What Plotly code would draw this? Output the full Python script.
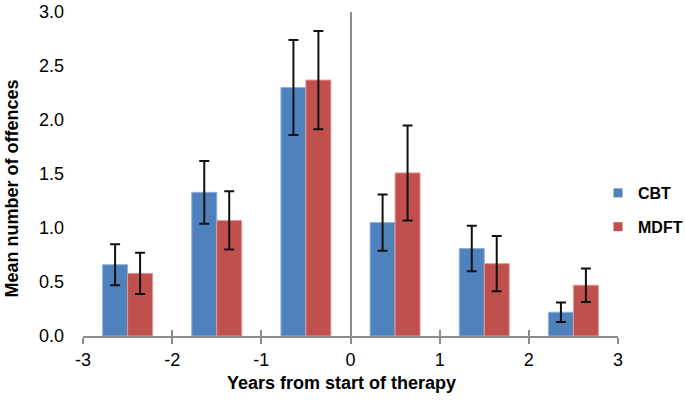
import plotly.graph_objects as go

years = [-2.5, -1.5, -0.5, 0.5, 1.5, 2.5]
cbt = [0.66, 1.33, 2.30, 1.05, 0.81, 0.22]
cbt_err = [0.19, 0.29, 0.44, 0.26, 0.21, 0.09]
mdft = [0.58, 1.07, 2.37, 1.51, 0.67, 0.47]
mdft_err = [0.19, 0.27, 0.455, 0.44, 0.255, 0.155]
x_ticks = [-3, -2, -1, 0, 1, 2, 3]
y_ticks = [0.0, 0.5, 1.0, 1.5, 2.0, 2.5, 3.0]

font = "Liberation Sans, Arial, sans-serif"
axis_gray = "#8c8c8c"
blue = "#4F81BD"
red = "#C0504D"

fig = go.Figure()
fig.add_trace(go.Bar(
    x=years, y=cbt, name="CBT", showlegend=False,
    marker=dict(color=blue, line=dict(color="#8fb0dc", width=1)),
    error_y=dict(type="data", array=cbt_err, color="#111111", thickness=2, width=5),
))
fig.add_trace(go.Bar(
    x=years, y=mdft, name="MDFT", showlegend=False,
    marker=dict(color=red, line=dict(color="#e09896", width=1)),
    error_y=dict(type="data", array=mdft_err, color="#111111", thickness=2, width=5),
))
# legend entries with small square keys
fig.add_trace(go.Scatter(x=[None], y=[None], mode="markers", name="CBT", legendgroup="cbt",
                         marker=dict(symbol="square", size=9, color=blue)))
fig.add_trace(go.Scatter(x=[None], y=[None], mode="markers", name="MDFT", legendgroup="mdft",
                         marker=dict(symbol="square", size=9, color=red)))
# invisible trace to host the second x axis (for crossing ticks)
fig.add_trace(go.Scatter(x=[x_ticks[0], x_ticks[-1]], y=[0, 0], xaxis="x2",
                         mode="lines", line=dict(width=0), showlegend=False,
                         hoverinfo="skip"))

fig.update_layout(
    width=685, height=400,
    margin=dict(l=83, r=67, t=12, b=64, autoexpand=False),
    paper_bgcolor="white", plot_bgcolor="white",
    barmode="group", bargap=0.44, bargroupgap=0,
    font=dict(family=font, color="black"),
    showlegend=True,
    legend=dict(xref="container", yref="container", x=0.873, y=0.475,
                xanchor="left", yanchor="middle",
                font=dict(size=16, family=font, weight="bold"),
                tracegroupgap=10,
                bgcolor="rgba(0,0,0,0)"),
    xaxis=dict(
        range=[-3, 3], tickmode="array", tickvals=x_ticks,
        ticktext=[str(t) for t in x_ticks],
        showgrid=False, zeroline=True, zerolinecolor=axis_gray, zerolinewidth=2,
        showline=True, linecolor=axis_gray, linewidth=2,
        ticks="outside", ticklen=6, tickwidth=2, tickcolor=axis_gray,
        tickfont=dict(size=18, family=font), automargin=False,
    ),
    xaxis2=dict(
        range=[-3, 3], overlaying="x", anchor="y", side="bottom",
        tickmode="array", tickvals=x_ticks, showticklabels=False,
        showgrid=False, zeroline=False, showline=False,
        ticks="inside", ticklen=6, tickwidth=2, tickcolor=axis_gray,
        automargin=False,
    ),
    yaxis=dict(
        range=[0, 3], tickmode="array", tickvals=y_ticks,
        ticktext=[f"{v:.1f}" for v in y_ticks],
        showgrid=False, zeroline=False, showline=False, ticks="",
        ticklabelstandoff=18, automargin=False,
        tickfont=dict(size=18, family=font),
    ),
    annotations=[
        dict(text="<b>Years from start of therapy</b>", xref="paper", yref="paper",
             x=0.484, y=-0.145, xanchor="center", yanchor="middle",
             showarrow=False, font=dict(size=18, family=font)),
        dict(text="<b>Mean number of offences</b>", xref="paper", yref="paper",
             x=-0.133, y=0.455, xanchor="center", yanchor="middle", textangle=-90,
             showarrow=False, font=dict(size=18, family=font)),
    ],
)

fig.write_html("out.html", config={"displayModeBar": False},
               post_script="document.body.style.margin='0';document.body.style.padding='0';")
